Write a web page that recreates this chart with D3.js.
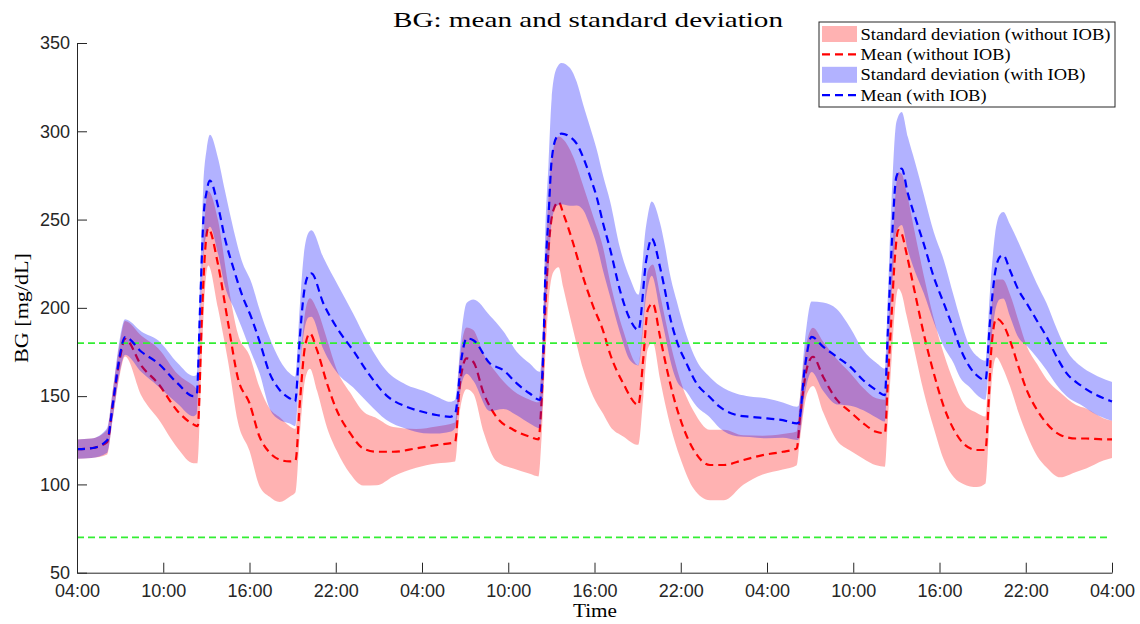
<!DOCTYPE html>
<html>
<head>
<meta charset="utf-8">
<script src="https://cdn.jsdelivr.net/npm/d3@7"></script>
<style>
  html, body { margin: 0; padding: 0; background: #fff; }
  svg { display: block; }
</style>
</head>
<body>
<div id="chart"></div>
<script>
// hours since 04:00 on day 1
const hoursNoIob = [0,1,2.1,2.5,3.0,3.34,4.5,5.66,7,8.1,8.4,8.68,8.9,9.13,9.8,10.5,11.2,12,12.7,13.4,
  14.1,14.8,15.2,15.5,15.86,16.2,16.7,17.4,18.07,19,19.9,20.85,22,23.6,25,26.3,26.64,27.1,27.57,28.27,
  29.2,30.35,31.5,32.1,32.32,32.56,32.8,33.14,33.5,33.83,34.5,35.2,35.9,36.6,37.08,38,39.05,39.4,39.7,40.05,
  40.56,41,41.5,42.07,42.9,44.03,45,46.35,47.7,49.1,50.07,50.3,50.8,51.2,51.9,52.85,53.8,54.7,55.6,56.2,
  56.4,56.66,56.9,57.13,57.37,57.7,58.2,58.9,59.6,60.3,61,61.65,62.6,63.2,63.4,63.6,63.95,64.4,64.9,65.5,
  66.07,66.8,67.45,68.4,69.5,70.2,71.4,72];
const meanNoIob = [120,120.5,124,146,172,182.5,167,157,141.5,134,133,193,231,245,225,192,160,146,127,118,
  114,113,113.5,146,178,185.5,176,157,142,129,120.4,118.5,118.5,120.4,122.3,124,157,171.4,169.4,152,
  138,131,127,125.5,147.8,195,232.7,255.3,260,253.4,237,217.5,201,187,174,157.2,145,172,198.7,202.5,
  183.6,166.6,149.6,134.6,119.5,111,111,113.8,116.6,118.5,120.4,138,166.6,172.3,161,148,141,134.6,129.8,129,
  157.2,195,229,244,242,231,212,185.5,163,144,131,123.3,119.5,119.5,144,176,194,191,181.7,166.6,
  153.4,142,134.6,128,126,126,125.5,125.5];
const sdNoIob = [5.5,5.5,7,8,9,10,17,20,21,22,21,21,21,21,25,22,25,27,28,25,
  24,20,18,18,19,20,23,25,23,23,21,19,14,11,10.5,11,15,17.5,18,22,
  25,22,21,21,21,25,30,35,37,42,49,52,51,47,41,30,22.6,22,22,22,
  24,24,23,22,22,20,20,14,11,10,9.5,12,15,16.5,20,23,22,20,19,19,
  22,25,30,33,34,35,34,33,31,30,27,23,21,19,20,21,22,25,26,26,
  25,26,25,24,19,17,12,10.5];

const hoursIob = [0,1,2.1,2.5,3.0,3.34,4.5,5.66,7,8.1,8.33,8.56,8.79,9.02,9.25,9.8,10.3,10.9,11.45,12.15,
  12.7,13.4,14.1,14.8,15.17,15.5,15.75,16.1,16.3,17.14,18.18,19.2,20.27,21.5,22.9,24.1,25,25.95,26.3,26.76,
  27.1,27.57,28.73,29.66,30.59,31.5,32.2,32.44,32.56,32.8,33.02,33.37,33.7,34.3,34.76,35.2,35.7,36.15,36.6,37.08,
  37.77,38.5,39.05,39.6,39.98,40.56,40.9,41.25,41.7,42.4,43.1,44,44.7,45.9,46.8,48,49.1,50.07,50.2,50.64,
  51.1,51.9,52.85,53.8,54.7,55.6,56.2,56.4,56.66,57,57.37,57.8,58.3,58.9,59.6,60.3,61,61.4,62.1,62.7,
  63.2,63.5,63.86,64.2,64.44,64.9,65.5,66.07,66.76,67.45,68.15,68.85,69.8,70.7,71.86,72];
const meanIob = [120,120.5,125,146,174,183.5,175,168.5,157.2,150,151,200,249.6,266,272,258,239,222,208,194,
  181,163,153.5,148.7,147,183,206,218.5,219.5,202.5,187.4,176,162.9,150.6,144,141,139.3,138.3,140,172,
  182.7,181.7,168.5,164.7,157.2,151.5,147.8,176,213.8,251.5,283.6,296.8,298.7,296.8,293,285.5,274.2,262.8,247.8,233.5,
  210,193,187.4,227,239.2,223,210,195,181.7,168.5,157.2,149.6,144,139.3,138.3,137.4,136.4,134.6,135,166.6,
  183.6,178,172.3,166.6,159,153.4,150.6,185.5,232.7,274.2,278.9,264.7,251.5,236.4,217.5,202.5,187.4,178,166.6,161,
  159,191,219.5,228.9,229.8,221.3,210,202.5,193,183.6,172.3,162.9,156.2,151.5,147.4,147];
const sdIob = [5.5,5.5,7,8,9.5,10,11.5,13,11.5,11.4,11,15,20,24,26,27,27,22,19,20,
  18,20,17,14.2,14,18,22,24,24.5,26,25,21,17,14,12.5,12,10.5,8.5,8,15,
  20,23,27,22,18,17,16,20,25,30,35,39,40,39,35,30,28,27,27,27,
  24,23,20,20,21,25,25,24,22.7,16,13,11.4,12,12,11.5,11.3,10,9.4,9.5,15,
  20,25,27,22,17,15.5,15,20,27,31,32,32,31,28,25.5,24.5,19,17,11.5,11,
  11,17,22,24,24.5,26,27,24,21,19,16,13,11,11,11,11];

const tickHours = [0,6,12,18,24,30,36,42,48,54,60,66,72];
const yTicks = [50,100,150,200,250,300,350];
const limits = [180, 70];

const width = 1140;
const height = 624;
const margin = { top: 43, right: 28, bottom: 51.3, left: 77 };

const t0 = new Date(2021, 0, 1, 4, 0);
const toDate = h => new Date(t0.getTime() + h * 3600e3);

const svg = d3.select("#chart")
  .append("svg")
  .attr("width", width)
  .attr("height", height);

const x = d3.scaleTime()
  .domain([toDate(0), toDate(72)])
  .range([margin.left, width - margin.right]);

const y = d3.scaleLinear()
  .domain([50, 350])
  .range([height - margin.bottom, margin.top]);

const rows = (hs, ms, ss) => hs.map((h, i) => ({ t: toDate(h), mean: ms[i], sd: ss[i] }));
const noIob = rows(hoursNoIob, meanNoIob, sdNoIob);
const withIob = rows(hoursIob, meanIob, sdIob);

const band = d3.area()
  .curve(d3.curveMonotoneX)
  .x(d => x(d.t))
  .y0(d => y(d.mean - d.sd))
  .y1(d => y(d.mean + d.sd));

const meanLine = d3.line()
  .curve(d3.curveMonotoneX)
  .x(d => x(d.t))
  .y(d => y(d.mean));

// sans IOB
svg.append("path").datum(noIob)
  .attr("fill", "#ff0000").attr("fill-opacity", 0.3)
  .attr("d", band);
svg.append("path").datum(noIob)
  .attr("fill", "none").attr("stroke", "#ff0000")
  .attr("stroke-width", 2.2).attr("stroke-dasharray", "8,5")
  .attr("d", meanLine);

// avec IOB
svg.append("path").datum(withIob)
  .attr("fill", "#0000ff").attr("fill-opacity", 0.3)
  .attr("d", band);

// limites 70 / 180
svg.selectAll(".limit")
  .data(limits)
  .join("line")
  .attr("class", "limit")
  .attr("x1", x.range()[0]).attr("x2", x.range()[1] - 4)
  .attr("y1", d => y(d)).attr("y2", d => y(d))
  .attr("stroke", "#33ee33")
  .attr("stroke-width", 1.8)
  .attr("stroke-dasharray", "7,4");

svg.append("path").datum(withIob)
  .attr("fill", "none").attr("stroke", "#0000ff")
  .attr("stroke-width", 2.2).attr("stroke-dasharray", "8,5")
  .attr("d", meanLine);

// Axes
const gx = svg.append("g")
  .attr("transform", `translate(0,${height - margin.bottom})`)
  .call(d3.axisBottom(x)
    .tickValues(tickHours.map(toDate))
    .tickFormat(d3.timeFormat("%H:%M"))
    .tickSizeInner(-10).tickSizeOuter(0).tickPadding(12));

const gy = svg.append("g")
  .attr("transform", `translate(${margin.left},0)`)
  .call(d3.axisLeft(y)
    .tickValues(yTicks)
    .tickSizeInner(-10).tickSizeOuter(0).tickPadding(7));

[gx, gy].forEach(g => {
  g.attr("font-family", "'Liberation Sans', Arial, sans-serif").attr("font-size", 18);
  g.select(".domain").attr("stroke", "#262626");
  g.selectAll(".tick line").attr("stroke", "#262626");
  g.selectAll(".tick text").attr("fill", "#262626");
});

const serif = "'Liberation Serif', 'Times New Roman', serif";

// Titres
svg.append("text")
  .attr("x", 588).attr("y", 27)
  .attr("text-anchor", "middle")
  .attr("font-family", serif).attr("font-size", 21)
  .attr("textLength", 390).attr("lengthAdjust", "spacingAndGlyphs")
  .text("BG: mean and standard deviation");

svg.append("text")
  .attr("x", 595).attr("y", 617)
  .attr("text-anchor", "middle")
  .attr("font-family", serif).attr("font-size", 18)
  .attr("textLength", 44).attr("lengthAdjust", "spacingAndGlyphs")
  .text("Time");

svg.append("text")
  .attr("transform", "translate(28,308) rotate(-90)")
  .attr("text-anchor", "middle")
  .attr("font-family", serif).attr("font-size", 18)
  .attr("textLength", 110).attr("lengthAdjust", "spacingAndGlyphs")
  .text("BG [mg/dL]");

// Légende
const legendItems = [
  { label: "Standard deviation (without IOB)", kind: "band", color: "#ff0000", len: 250 },
  { label: "Mean (without IOB)", kind: "line", color: "#ff0000", len: 150 },
  { label: "Standard deviation (with IOB)", kind: "band", color: "#0000ff", len: 225 },
  { label: "Mean (with IOB)", kind: "line", color: "#0000ff", len: 126 }
];

const legend = svg.append("g").attr("transform", "translate(819,22)");
legend.append("rect")
  .attr("width", 296).attr("height", 85)
  .attr("fill", "#fff").attr("stroke", "#262626").attr("stroke-width", 1);

legendItems.forEach((d, i) => {
  const cy = 12 + i * 20.4;
  if (d.kind === "band") {
    legend.append("rect")
      .attr("x", 3).attr("y", cy - 8).attr("width", 35).attr("height", 16)
      .attr("fill", d.color).attr("fill-opacity", 0.3);
  } else {
    legend.append("line")
      .attr("x1", 3).attr("x2", 38).attr("y1", cy).attr("y2", cy)
      .attr("stroke", d.color).attr("stroke-width", 2.2).attr("stroke-dasharray", "8,5");
  }
  legend.append("text")
    .attr("x", 41.5).attr("y", cy).attr("dy", "0.33em")
    .attr("font-family", serif).attr("font-size", 17)
    .attr("textLength", d.len).attr("lengthAdjust", "spacingAndGlyphs")
    .text(d.label);
});
</script>
</body>
</html>
